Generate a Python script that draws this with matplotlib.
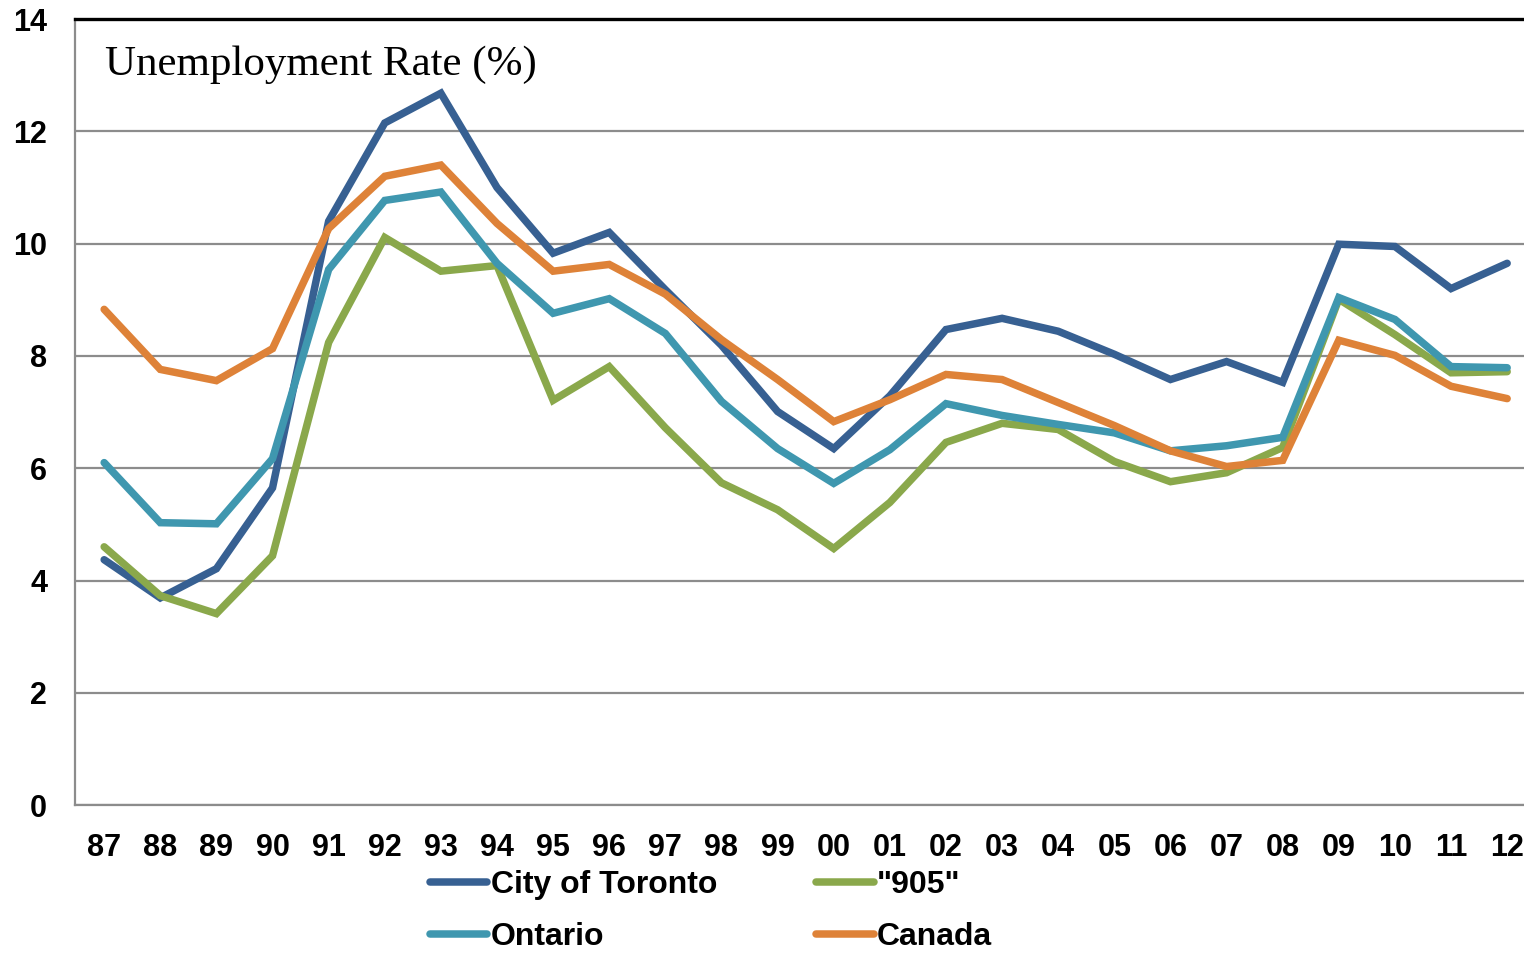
"""Unemployment rate: Toronto, 905, Ontario, Canada."""
import matplotlib.pyplot as plt
import numpy as np

plt.rcParams['font.family'] = ['Liberation Sans', 'DejaVu Sans']

years = ['87', '88', '89', '90', '91', '92', '93', '94', '95', '96', '97', '98', '99',
         '00', '01', '02', '03', '04', '05', '06', '07', '08', '09', '10', '11', '12']

toronto = [4.37, 3.69, 4.21, 5.65, 10.4, 12.15, 12.68, 11.0, 9.83, 10.2, 9.18, 8.19, 7.01,
           6.35, 7.29, 8.47, 8.67, 8.44, 8.03, 7.58, 7.90, 7.53, 9.99, 9.95, 9.20, 9.65]
gta905 = [4.60, 3.73, 3.41, 4.44, 8.24, 10.11, 9.51, 9.61, 7.21, 7.81, 6.72, 5.74, 5.26,
          4.57, 5.39, 6.46, 6.80, 6.69, 6.12, 5.76, 5.92, 6.37, 9.01, 8.38, 7.70, 7.72]
ontario = [6.10, 5.03, 5.01, 6.17, 9.54, 10.77, 10.92, 9.65, 8.76, 9.02, 8.40, 7.19, 6.35,
           5.73, 6.33, 7.15, 6.94, 6.78, 6.63, 6.31, 6.40, 6.55, 9.04, 8.65, 7.81, 7.79]
canada = [8.83, 7.76, 7.56, 8.13, 10.27, 11.20, 11.40, 10.36, 9.51, 9.63, 9.10, 8.29, 7.58,
          6.83, 7.22, 7.67, 7.58, 7.17, 6.76, 6.31, 6.03, 6.14, 8.28, 8.01, 7.46, 7.24]

series = [
    ('City of Toronto', toronto, '#376092'),
    ('"905"', gta905, '#8AA84B'),
    ('Ontario', ontario, '#3F97AF'),
    ('Canada', canada, '#DE8238'),
]

fig = plt.figure(figsize=(15.24, 9.55), dpi=100)
ax = fig.add_axes([0.0492, 0.157, 0.9508, 0.823])

x = np.arange(len(years))
lines = []
for label, vals, color in series:
    ln, = ax.plot(x, vals, color=color, lw=5.4, label=label, solid_capstyle='round',
                  solid_joinstyle='miter')
    lines.append(ln)

ax.set_xlim(-0.52, 25.3)
ax.set_ylim(0, 14)
ax.set_yticks(range(0, 15, 2))
ax.set_xticks(x)
ax.set_xticklabels(years)
ax.tick_params(axis='both', length=0, labelsize=22)
ax.tick_params(axis='y', pad=20)
ax.tick_params(axis='x', pad=20)
for lab in ax.get_xticklabels() + ax.get_yticklabels():
    lab.set_fontweight('bold')

ax.yaxis.grid(True, color='#8c8c8c', lw=1.6)
ax.set_axisbelow(True)
ax.spines['right'].set_visible(False)
ax.spines['left'].set_color('#8c8c8c')
ax.spines['left'].set_linewidth(1.6)
ax.spines['bottom'].set_color('#8c8c8c')
ax.spines['bottom'].set_linewidth(1.6)
ax.spines['top'].set_color('black')
ax.spines['top'].set_linewidth(2.4)

ax.text(0.021, 0.942, 'Unemployment Rate (%)', transform=ax.transAxes,
        fontsize=31, family='Liberation Serif', va='center', ha='left')

# legend fills row by row: Toronto, 905 / Ontario, Canada
order = [0, 2, 1, 3]
leg = fig.legend([lines[i] for i in order], [series[i][0] for i in order],
                 loc='center', bbox_to_anchor=(0.4665, 0.046), ncol=2, frameon=False,
                 fontsize=23, handlelength=1.8, handletextpad=0.1,
                 columnspacing=3.1, labelspacing=0.68, borderpad=0.2)
for t in leg.get_texts():
    t.set_fontweight('bold')

plt.savefig('out.png', dpi=100)
